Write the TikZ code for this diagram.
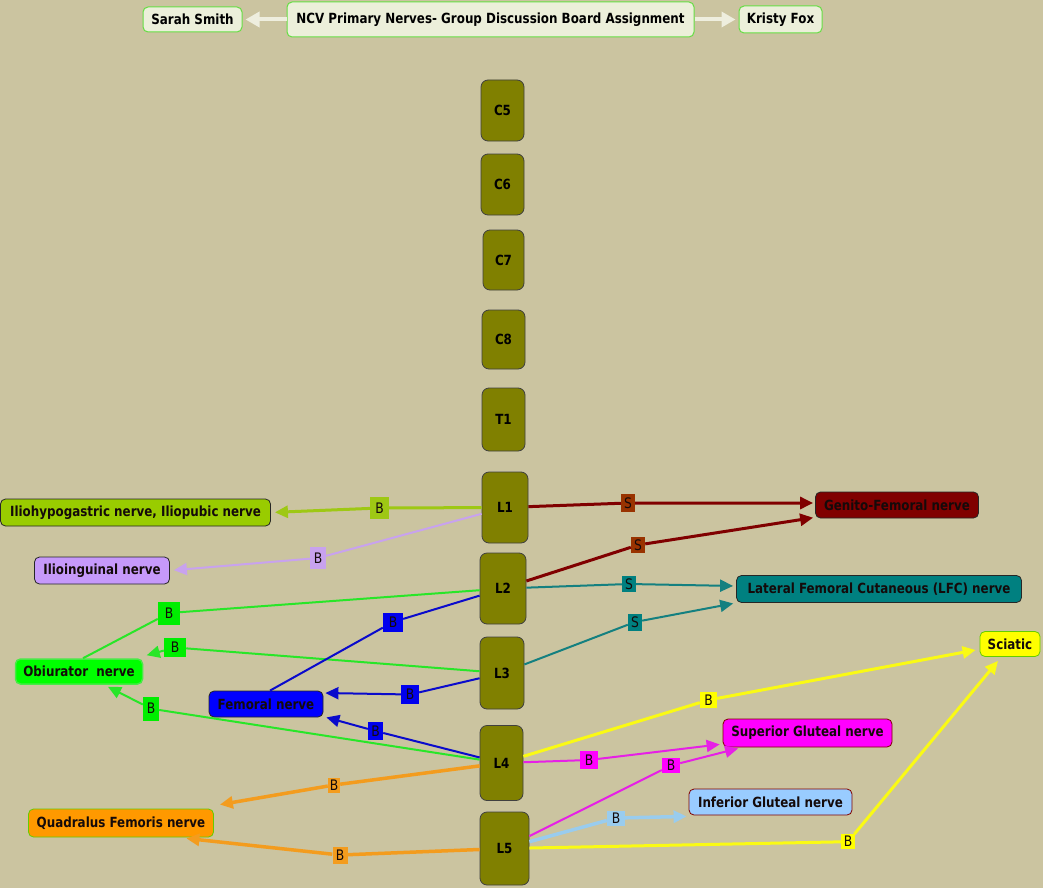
\documentclass[tikz,border=0pt]{standalone}
\usepackage{fontspec}
\setmainfont{DejaVu Sans}[FakeStretch=0.85]
\usetikzlibrary{arrows.meta}

\definecolor{bgc}{RGB}{203,196,160}
\definecolor{hdrfill}{RGB}{236,239,218}
\definecolor{hdrline}{RGB}{102,221,68}
\definecolor{hdrarrow}{RGB}{238,238,222}
\definecolor{spinec}{RGB}{128,128,0}
\definecolor{ygreen}{RGB}{153,204,0}
\definecolor{ygreenline}{RGB}{158,200,20}
\definecolor{lav}{RGB}{198,153,250}
\definecolor{lavline}{RGB}{200,162,238}
\definecolor{brightg}{RGB}{0,255,0}
\definecolor{gframe}{RGB}{70,235,70}
\definecolor{gline}{RGB}{40,230,40}
\definecolor{glab}{RGB}{0,238,0}
\definecolor{femc}{RGB}{0,0,255}
\definecolor{bline}{RGB}{10,10,204}
\definecolor{blab}{RGB}{0,0,238}
\definecolor{orangec}{RGB}{255,153,0}
\definecolor{oline}{RGB}{243,156,30}
\definecolor{maroonc}{RGB}{128,0,0}
\definecolor{slab}{RGB}{153,51,0}
\definecolor{tealc}{RGB}{0,128,128}
\definecolor{tline}{RGB}{20,128,128}
\definecolor{yellowc}{RGB}{255,255,0}
\definecolor{yline}{RGB}{250,250,20}
\definecolor{magc}{RGB}{255,0,255}
\definecolor{mline}{RGB}{230,32,230}
\definecolor{lblue}{RGB}{153,204,255}
\definecolor{lbline}{RGB}{153,204,238}
\definecolor{nodeframe}{RGB}{128,0,0}
\definecolor{qframe}{RGB}{102,204,0}
\definecolor{darktext}{RGB}{20,10,10}

\begin{document}
\begin{tikzpicture}[x=1pt,y=-1pt,
  hdr/.style={draw=hdrline, line width=1pt, fill=hdrfill, rounded corners=5pt,
    font=\bfseries\fontsize{14}{16}\selectfont, inner sep=0pt},
  spine/.style={draw=black!75, line width=0.8pt, fill=spinec, rounded corners=7pt,
    font=\bfseries\fontsize{14}{16}\selectfont, inner sep=0pt},
  nerve/.style={draw=black!85, line width=0.8pt, rounded corners=5pt, text=darktext,
    font=\bfseries\fontsize{14}{16}\selectfont, inner sep=0pt},
  lab/.style={font=\fontsize{14.5}{16}\selectfont, text=darktext, inner sep=0pt,
    minimum width=17pt, minimum height=18pt},
  tip/.style={-{Triangle[length=13pt,width=12pt]}},
  hdrarr/.style={draw=hdrarrow, line width=4pt, -{Triangle[length=14pt,width=15pt]}, shorten >=3pt}
]
\useasboundingbox[fill=bgc] (0,0) rectangle (1043,888);

% header
\node[hdr, minimum width=99pt, minimum height=25pt] (sarah) at (192.5,19.5) {Sarah Smith};
\node[hdr, minimum width=407pt, minimum height=35pt] (title) at (490.5,19.5) {NCV Primary Nerves- Group Discussion Board Assignment};
\node[hdr, minimum width=83pt, minimum height=27pt] (kristy) at (780.5,19.5) {Kristy Fox};
\draw[hdrarr] (title) -- (sarah);
\draw[hdrarr] (title) -- (kristy);

% spine
\node[spine, minimum width=43pt, minimum height=61pt] (C5) at (502.5,110.5) {C5};
\node[spine, minimum width=43pt, minimum height=61pt] (C6) at (502.5,184.5) {C6};
\node[spine, minimum width=41pt, minimum height=60pt] (C7) at (503.5,260) {C7};
\node[spine, minimum width=43pt, minimum height=59pt] (C8) at (503.5,339.5) {C8};
\node[spine, minimum width=43pt, minimum height=63pt] (T1) at (503.5,419.5) {T1};
\node[spine, minimum width=46pt, minimum height=71pt] (L1) at (505,507.5) {L1};
\node[spine, minimum width=46pt, minimum height=71pt] (L2) at (503,588.5) {L2};
\node[spine, minimum width=44pt, minimum height=72pt] (L3) at (502,673) {L3};
\node[spine, minimum width=43pt, minimum height=75pt] (L4) at (501.5,763) {L4};
\node[spine, minimum width=49pt, minimum height=73pt] (L5) at (504.5,848.5) {L5};

% nerves
\node[nerve, fill=ygreen, minimum width=270pt, minimum height=27pt] (ilioh) at (135.5,512.5) {Iliohypogastric nerve, Iliopubic nerve};
\node[nerve, fill=lav, minimum width=135pt, minimum height=27pt] (ilioin) at (102,570.5) {Ilioinguinal nerve};
\node[nerve, fill=brightg, draw=gframe, line width=1.5pt, minimum width=127pt, minimum height=25pt] (obi) at (79,671.5) {Obiurator\ \ nerve};
\node[nerve, fill=femc, minimum width=114pt, minimum height=26pt] (fem) at (266,704) {Femoral nerve};
\node[nerve, fill=orangec, draw=qframe, minimum width=185pt, minimum height=28pt] (quad) at (121,823) {Quadralus Femoris nerve};
\node[nerve, fill=maroonc, minimum width=163pt, minimum height=26pt] (genito) at (897,505) {Genito-Femoral nerve};
\node[nerve, fill=tealc, minimum width=285pt, minimum height=27pt] (lfc) at (879,589) {Lateral Femoral Cutaneous (LFC) nerve};
\node[nerve, fill=yellowc, draw=qframe, minimum width=60pt, minimum height=25pt] (sciatic) at (1010,644) {Sciatic};
\node[nerve, fill=magc, draw=nodeframe, minimum width=169pt, minimum height=28pt] (sup) at (807.5,733) {Superior Gluteal nerve};
\node[nerve, fill=lblue, draw=nodeframe, minimum width=163pt, minimum height=26pt] (inf) at (770.5,802) {Inferior Gluteal nerve};

% labels
\node[lab, fill=ygreenline, minimum width=19pt, minimum height=22pt] (b1) at (379.5,508) {B};
\node[lab, fill=lavline, minimum width=16pt, minimum height=22pt] (b2) at (318,558) {B};
\node[lab, fill=slab, minimum width=14pt, minimum height=18pt] (b3) at (628,503) {S};
\node[lab, fill=slab, minimum width=14pt, minimum height=16pt] (b4) at (638,545) {S};
\node[lab, fill=tealc, minimum width=14pt, minimum height=16pt] (b5) at (629,584) {S};
\node[lab, fill=tealc, minimum width=14pt, minimum height=17pt] (b6) at (635,622) {S};
\node[lab, fill=glab, minimum width=22pt, minimum height=23pt] (b7) at (169,613) {B};
\node[lab, fill=glab, minimum width=22pt, minimum height=19pt] (b8) at (175,647.5) {B};
\node[lab, fill=glab, minimum width=16pt, minimum height=24pt] (b9) at (151,708.7) {B};
\node[lab, fill=blab, minimum width=20pt, minimum height=19pt] (b10) at (393,622) {B};
\node[lab, fill=blab, minimum width=18pt, minimum height=19pt] (b11) at (410,694.5) {B};
\node[lab, fill=blab, minimum width=15pt, minimum height=18pt] (b12) at (375.5,731) {B};
\node[lab, fill=oline, minimum width=12pt, minimum height=15pt] (b13) at (334,785) {B};
\node[lab, fill=oline, minimum width=15pt, minimum height=17pt] (b14) at (340,855) {B};
\node[lab, fill=yellowc, minimum width=17pt, minimum height=16pt] (b15) at (708.5,700) {B};
\node[lab, fill=yellowc, minimum width=14pt, minimum height=15pt] (b16) at (848,841.7) {B};
\node[lab, fill=magc, minimum width=18pt, minimum height=18pt] (b17) at (589,760) {B};
\node[lab, fill=magc, minimum width=18pt, minimum height=15pt] (b18) at (671,765.5) {B};
\node[lab, fill=lbline, minimum width=18pt, minimum height=15pt] (b19) at (616,818) {B};

% connectors
\draw[draw=ygreenline, line width=3pt, tip, shorten >=4pt] (L1) -- (b1) -- (ilioh.east);
\draw[draw=lavline, line width=2pt, tip, shorten >=4pt] (L1) -- (b2) -- (ilioin.east);
\draw[draw=maroonc, line width=3pt, tip, shorten >=2pt] (L1) -- (b3) -- ([yshift=2pt]genito.west);
\draw[draw=maroonc, line width=3pt, tip, shorten >=2pt] (L2) -- (b4) -- ([yshift=1pt]genito.south west);
\draw[draw=tline, line width=2pt, tip, shorten >=3pt] (L2) -- (b5) -- ([yshift=3pt]lfc.west);
\draw[draw=tline, line width=2pt, tip, shorten >=3pt] (L3) -- (b6) -- (lfc.south west);
\draw[draw=gline, line width=2pt] (L2) -- (b7) -- ([xshift=4pt]obi.north);
\draw[draw=gline, line width=2pt, tip] (L3) -- (b8) -- ([xshift=3.5pt,yshift=3pt]obi.north east);
\draw[draw=gline, line width=2pt, tip] (L4) -- (b9) -- ([xshift=29pt,yshift=-2pt]obi.south);
\draw[draw=bline, line width=2pt] (L2) -- (b10) -- ([xshift=4pt]fem.north);
\draw[draw=bline, line width=2pt, tip] (L3) -- (b11) -- ([xshift=2pt,yshift=11pt]fem.east);
\draw[draw=bline, line width=2pt, tip] (L4) -- (b12) -- ([xshift=3pt]fem.south east);
\draw[draw=oline, line width=3.5pt, tip] (L4) -- (b13) -- ([xshift=6pt,yshift=4pt]quad.north east);
\draw[draw=oline, line width=3.5pt, tip] (L5) -- (b14) -- ([xshift=-27.5pt,yshift=-1pt]quad.south east);
\draw[draw=yline, line width=3pt, tip] (L4) -- (b15) -- ([xshift=-4pt,yshift=-6pt]sciatic.west);
\draw[draw=yline, line width=3pt, tip] (L5) -- (b16) -- ([xshift=-12pt,yshift=-4pt]sciatic.south);
\draw[draw=mline, line width=2pt, tip] (L4) -- (b17) -- ([xshift=-3pt,yshift=3pt]sup.south west);
\draw[draw=mline, line width=2pt, tip] (L5) -- (b18) -- ([xshift=15.5pt,yshift=-1pt]sup.south west);
\draw[draw=lbline, line width=3.5pt, tip] (L5) -- (b19) -- ([xshift=-2pt,yshift=-1pt]inf.south west);
\end{tikzpicture}
\end{document}
